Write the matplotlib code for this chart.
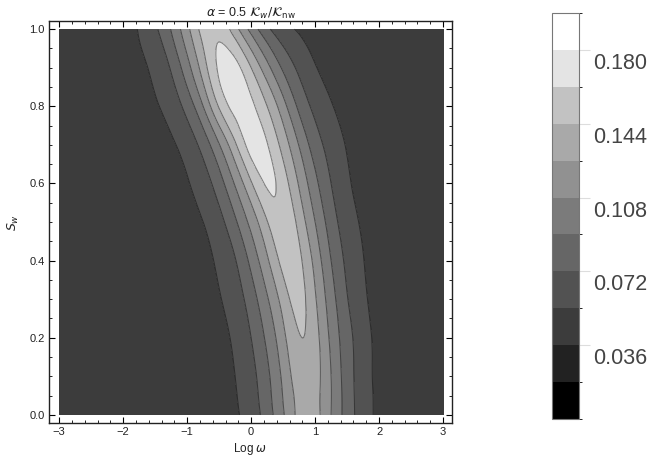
import numpy as np
import matplotlib
matplotlib.use("Agg")
import matplotlib.pyplot as plt
from matplotlib.colors import ListedColormap, BoundaryNorm
from matplotlib.cm import ScalarMappable
from matplotlib.transforms import ScaledTranslation
from matplotlib.tri import Triangulation, UniformTriRefiner, CubicTriInterpolator

# ---- data ----
log_omega = [-3.0, -2.5, -2.0, -1.75, -1.5, -1.25, -1.0, -0.75, -0.5, -0.25, 0.0,
             0.25, 0.5, 0.75, 1.0, 1.25, 1.5, 1.75, 2.0, 2.25, 2.5, 3.0]
s_w = [0.0, 0.1, 0.2, 0.3, 0.4, 0.5, 0.6, 0.7, 0.8, 0.9, 1.0]

z_s00 = [0.045, 0.045, 0.045, 0.045, 0.045, 0.045, 0.046, 0.046, 0.048, 0.052, 0.062,
         0.081, 0.106, 0.131, 0.132, 0.108, 0.082, 0.063, 0.050, 0.047, 0.046, 0.045]
z_s01 = [0.045, 0.045, 0.045, 0.045, 0.045, 0.045, 0.046, 0.047, 0.049, 0.054, 0.066,
         0.086, 0.112, 0.136, 0.133, 0.108, 0.081, 0.062, 0.050, 0.047, 0.046, 0.045]
z_s02 = [0.045, 0.045, 0.045, 0.045, 0.045, 0.046, 0.046, 0.047, 0.050, 0.057, 0.072,
         0.094, 0.121, 0.143, 0.133, 0.104, 0.079, 0.061, 0.050, 0.047, 0.046, 0.045]
z_s03 = [0.045, 0.045, 0.045, 0.045, 0.045, 0.046, 0.047, 0.049, 0.053, 0.063, 0.081,
         0.106, 0.134, 0.149, 0.128, 0.098, 0.073, 0.057, 0.049, 0.047, 0.046, 0.045]
z_s04 = [0.045, 0.045, 0.045, 0.045, 0.046, 0.046, 0.047, 0.050, 0.057, 0.071, 0.095,
         0.123, 0.150, 0.148, 0.120, 0.090, 0.068, 0.0545, 0.049, 0.047, 0.046, 0.045]
z_s05 = [0.045, 0.045, 0.045, 0.046, 0.046, 0.047, 0.050, 0.054, 0.066, 0.087, 0.114,
         0.143, 0.158, 0.138, 0.108, 0.081, 0.062, 0.052, 0.048, 0.047, 0.046, 0.045]
z_s06 = [0.045, 0.045, 0.045, 0.046, 0.047, 0.049, 0.053, 0.063, 0.082, 0.110, 0.142,
         0.164, 0.153, 0.124, 0.095, 0.072, 0.0565, 0.050, 0.048, 0.046, 0.046, 0.045]
z_s07 = [0.045, 0.045, 0.046, 0.047, 0.048, 0.052, 0.061, 0.079, 0.107, 0.141, 0.169,
         0.163, 0.137, 0.107, 0.081, 0.064, 0.053, 0.049, 0.047, 0.046, 0.046, 0.045]
z_s08 = [0.045, 0.045, 0.047, 0.049, 0.0525, 0.061, 0.079, 0.108, 0.146, 0.168, 0.166,
         0.144, 0.115, 0.086, 0.067, 0.055, 0.050, 0.047, 0.046, 0.046, 0.045, 0.045]
z_s09 = [0.045, 0.046, 0.048, 0.051, 0.058, 0.074, 0.101, 0.135, 0.165, 0.168, 0.144,
         0.114, 0.087, 0.068, 0.055, 0.050, 0.048, 0.047, 0.046, 0.046, 0.045, 0.045]
z_s10 = [0.045, 0.046, 0.050, 0.055, 0.069, 0.091, 0.121, 0.151, 0.159, 0.133, 0.102,
         0.076, 0.060, 0.052, 0.048, 0.046, 0.046, 0.045, 0.045, 0.045, 0.045, 0.045]

levels = [0.0, 0.018, 0.036, 0.054, 0.072, 0.090, 0.108, 0.126, 0.144, 0.162, 0.180, 0.198]
cbar_ticks = [0.036, 0.072, 0.108, 0.144, 0.180]
cbar_ticklabels = ["0.036", "0.072", "0.108", "0.144", "0.180"]
x_ticks = [-3, -2, -1, 0, 1, 2, 3]
x_ticklabels = ["\u22123", "\u22122", "\u22121", "0", "1", "2", "3"]
y_ticks = [0.0, 0.2, 0.4, 0.6, 0.8, 1.0]
y_ticklabels = ["0.0", "0.2", "0.4", "0.6", "0.8", "1.0"]

band_colors = ['#000000', '#222222', '#3c3c3c', '#525252', '#666666', '#7b7b7b',
               '#919191', '#a9a9a9', '#c2c2c2', '#e4e4e4', '#ffffff']

Z = np.array([z_s00, z_s01, z_s02, z_s03, z_s04, z_s05, z_s06, z_s07, z_s08, z_s09, z_s10])

plt.rcParams['font.family'] = ['Liberation Sans', 'DejaVu Sans']
plt.rcParams['mathtext.fontset'] = 'dejavusans'

fig = plt.figure(figsize=(6.51, 4.57), dpi=100)
ax = fig.add_axes([49 / 651, 34 / 457, 403 / 651, 402 / 457])

cmap = ListedColormap(band_colors)
norm = BoundaryNorm(levels, cmap.N)

# grid triangulation with cell diagonals running along the ridge direction,
# then matplotlib's own cubic triangular interpolation for smooth contours
ys = 4.0
nr, nc = Z.shape
X, Y = np.meshgrid(log_omega, s_w)
tris = []
for i in range(nr - 1):
    for j in range(nc - 1):
        a = i * nc + j
        b = a + 1
        c = a + nc
        d = c + 1
        tris.append([a, b, c])
        tris.append([b, d, c])
tri = Triangulation(X.ravel(), Y.ravel() * ys, np.array(tris))
interp = CubicTriInterpolator(tri, Z.ravel(), kind='min_E')
tri_r, z_r = UniformTriRefiner(tri).refine_field(Z.ravel(), triinterpolator=interp, subdiv=4)
tri_plot = Triangulation(tri_r.x, tri_r.y / ys, tri_r.triangles)

ax.tricontourf(tri_plot, z_r, levels=levels, cmap=cmap, norm=norm)
ax.tricontour(tri_plot, z_r, levels=levels[1:-1], colors='black', alpha=0.45,
              linewidths=0.75)

ax.set_xlim(-3.16, 3.14)
ax.set_ylim(-0.021, 1.021)
ax.set_facecolor('white')
ax.set_xticks(x_ticks)
ax.set_xticklabels(x_ticklabels)
ax.set_yticks(y_ticks)
ax.set_yticklabels(y_ticklabels)
ax.set_xticks(np.arange(-3, 3.01, 0.2), minor=True)
ax.set_yticks(np.arange(0, 1.001, 0.05), minor=True)
ax.tick_params(which='both', direction='in', top=True, right=True, labelsize=8,
               colors='black', labelcolor='#222222')
ax.tick_params(which='major', length=4, width=0.8, pad=3)
ax.tick_params(which='minor', length=2, width=0.6)
for sp in ax.spines.values():
    sp.set_linewidth(1.0)
    sp.set_color('#222222')

ax.set_xlabel("Log $\\omega$", fontsize=8.5, color='#222222', labelpad=3)
ax.set_ylabel("$S_w$", fontsize=9, color='#222222', labelpad=6)
ax.set_title("$\\alpha$ = 0.5 $\\mathcal{K}_w/\\mathcal{K}_{\\rm nw}$", fontsize=9,
             color='#222222', pad=3)

# colorbar
cax = fig.add_axes([552 / 651, 38 / 457, 27 / 651, 406 / 457])
sm = ScalarMappable(norm=norm, cmap=cmap)
cb = fig.colorbar(sm, cax=cax, boundaries=levels, ticks=cbar_ticks)
cb.ax.set_yticklabels(cbar_ticklabels)
cb.outline.set_edgecolor('#777777')
cb.outline.set_linewidth(0.8)
cax.tick_params(length=8, width=0.8, color='#dddddd', labelsize=15.5,
                labelcolor='#444444', pad=2)
offset = ScaledTranslation(0, -11 / 100, fig.dpi_scale_trans)
for lab in cax.get_yticklabels():
    lab.set_transform(lab.get_transform() + offset)

fig.savefig("out.png", dpi=100)
